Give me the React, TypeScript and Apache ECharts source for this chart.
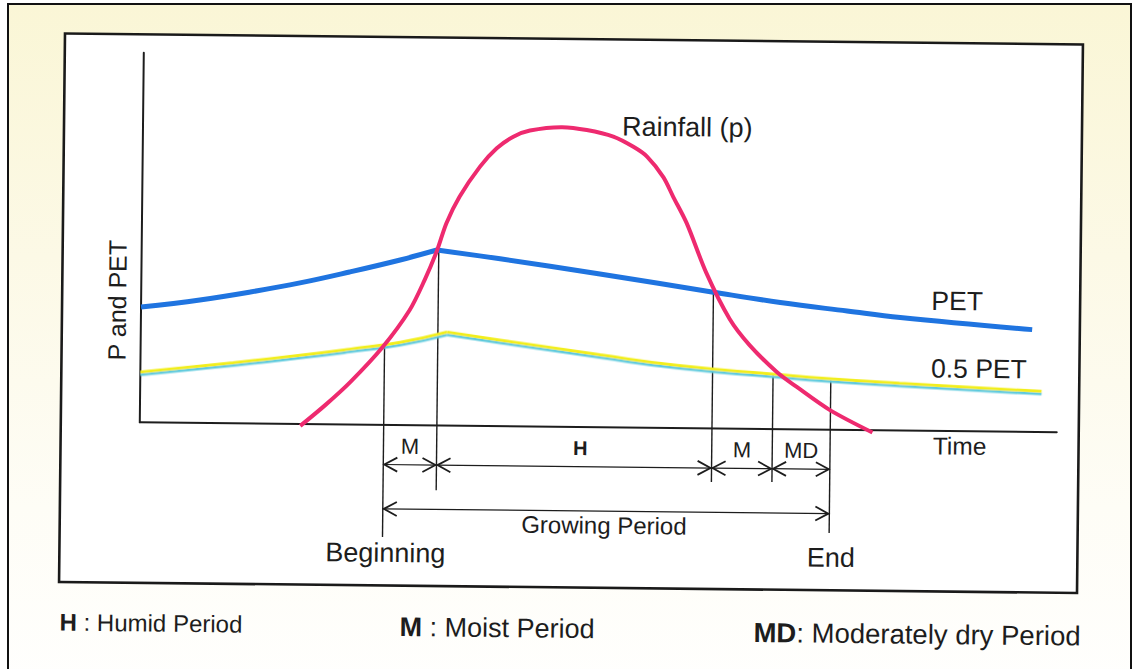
import React, { useEffect, useRef } from "react";
import * as echarts from "echarts";

const FONT = "'Liberation Sans', Arial, Helvetica, sans-serif";
const INK = "#1d1d1d";

// Axis ranges (arbitrary units: Time 0-100, P and PET 0-100)
const timeMin = 0;
const timeMax = 100;
const valueMin = 0;
const valueMax = 100;

// Rainfall (p)
const rainfallTime = [17.5, 20.2, 22.9, 26.4, 29.3, 30.9, 32.2, 33.2, 34.6, 36.8, 38.6, 40.4, 42.2, 45.7, 48.4, 51.3, 53.5, 55.0, 56.8, 57.9, 59.4, 61.6, 64.2, 66.4, 69.4, 71.6, 75.2, 79.9];
const rainfallValue = [-0.5, 5.2, 11.5, 21.1, 31.2, 39.4, 47.3, 54.8, 62.0, 70.2, 75.2, 78.4, 80.1, 81.1, 80.4, 78.7, 76.0, 73.4, 67.9, 62.6, 55.5, 42.1, 29.7, 22.7, 15.5, 11.5, 5.4, -0.6];

// PET
const petTime = [0, 6.4, 11.9, 17.3, 22.7, 28.2, 32.2, 39.1, 50.0, 62.4, 69.7, 77.0, 82.8, 97.2];
const petValue = [31.2, 33.3, 35.6, 38.2, 41.3, 44.7, 47.5, 45.3, 41.5, 36.9, 34.3, 32.2, 30.6, 27.7];

// 0.5 PET
const halfPetTime = [0, 10.1, 17.4, 22.8, 28.3, 33.4, 39.2, 50.1, 58.8, 69.0, 75.2, 82.8, 98.3];
const halfPetValue = [13.6, 16.4, 18.6, 20.4, 22.4, 25.3, 23.3, 19.6, 16.9, 14.9, 13.8, 12.8, 11.0];

// Period annotations
const periodStart = [26.6, 32.4, 62.4, 69.0];
const periodEnd = [32.4, 62.4, 69.0, 75.3];
const periodLabel = ["M", "H", "M", "MD"];
const periodRow = -10.7;

const growingStart = [26.6];
const growingEnd = [75.3];
const growingLabel = ["Growing Period"];
const growingRow = -22.7;
const growingEnds = ["Beginning", "End"];

const boundaryTime = [26.6, 32.4, 62.4, 69.0, 75.3];
const boundaryTop = [21.3, 47.5, 37.5, 14.9, 13.4];
const boundaryBottom = [-30.3, -17.5, -14.5, -14.3, -27.9];

const zip = (a: number[], b: number[]) => a.map((v, i) => [v, b[i]]);

function peakIndex(vals: number[]) {
  let k = 0;
  vals.forEach((v, i) => {
    if (v > vals[k]) k = i;
  });
  return k;
}

function chevron(x: number, y: number, dir: number) {
  return {
    type: "polyline",
    shape: { points: [[x - dir * 13, y - 7], [x, y], [x - dir * 13, y + 7]] },
    style: { stroke: INK, lineWidth: 1.8, fill: null },
  };
}

function txt(text: string, x: number, y: number, size: number, extra: any = {}) {
  return {
    type: "text",
    x,
    y,
    z: 100,
    silent: true,
    ...extra,
    style: {
      text,
      fill: INK,
      fontFamily: FONT,
      fontSize: size,
      align: "center",
      verticalAlign: "middle",
      ...(extra.style || {}),
    },
  };
}

function legendText(text: string, x: number, y: number, size: number) {
  return {
    type: "text",
    x,
    y,
    z: 100,
    silent: true,
    style: {
      text,
      fill: INK,
      fontFamily: FONT,
      fontSize: size,
      align: "left",
      verticalAlign: "middle",
      rich: { b: { fontWeight: "bold", fontSize: size, fontFamily: FONT, fill: INK } },
    },
  };
}

export default function App() {
  const ref = useRef<HTMLDivElement>(null);

  useEffect(() => {
    if (!ref.current) return;
    const chart = echarts.init(ref.current, null, { renderer: "svg" });

    const petPeak = peakIndex(petValue);
    const halfPeak = peakIndex(halfPetValue);
    const petPts = zip(petTime, petValue);
    const halfPts = zip(halfPetTime, halfPetValue);

    const axisCommon = {
      type: "value",
      axisLine: { show: true, onZero: false, lineStyle: { color: INK, width: 2 } },
      axisTick: { show: false },
      axisLabel: { show: false },
      splitLine: { show: false },
    };

    const halfStyle = {
      color: "#f2ee1a",
      width: 3,
      shadowColor: "#5cc9dd",
      shadowOffsetY: 2.5,
      shadowBlur: 0,
    };

    const option: any = {
      animation: false,
      grid: { left: 141, top: 57.5, width: 917, height: 369.5 },
      xAxis: { ...axisCommon, min: timeMin, max: timeMax },
      yAxis: { ...axisCommon, min: valueMin, max: valueMax },
      graphic: [
        {
          type: "rect",
          z: -10,
          silent: true,
          shape: { x: 62, y: 39, width: 1018, height: 548.5 },
          style: { fill: "#ffffff", stroke: "#1a1a1a", lineWidth: 2.6 },
        },
        txt("Rainfall (p)", 620, 126, 27, { style: { align: "left" } }),
        txt("PET", 957, 297, 26.5),
        txt("0.5 PET", 979.5, 364.5, 26.5),
        txt("Time", 961, 442, 24.5),
        txt("P and PET", 117, 305, 25, { rotation: Math.PI / 2 }),
        legendText("{b|H} : Humid Period", 63, 627.6, 24),
        legendText("{b|M} : Moist Period", 403, 628.8, 27),
        legendText("{b|MD}: Moderately dry Period", 757, 630.5, 27.5),
      ],
      series: [
        {
          type: "custom",
          name: "boundaries",
          clip: false,
          z: 2,
          data: boundaryTime.map((t, i) => [t, boundaryTop[i], boundaryBottom[i]]),
          renderItem: (params: any, api: any) => {
            const a = api.coord([api.value(0), api.value(1)]);
            const b = api.coord([api.value(0), api.value(2)]);
            return {
              type: "line",
              shape: { x1: a[0], y1: a[1], x2: b[0], y2: b[1] },
              style: { stroke: INK, lineWidth: 1.4 },
            };
          },
        },
        {
          type: "custom",
          name: "periods",
          clip: false,
          z: 2,
          data: periodStart.map((s, i) => [s, periodEnd[i]]),
          renderItem: (params: any, api: any) => {
            const s = api.coord([api.value(0), periodRow]);
            const e = api.coord([api.value(1), periodRow]);
            const y = s[1];
            const label = periodLabel[params.dataIndex];
            const bold = label === "H";
            return {
              type: "group",
              children: [
                { type: "line", shape: { x1: s[0], y1: y, x2: e[0], y2: y }, style: { stroke: INK, lineWidth: 1.2 } },
                chevron(s[0] + 1, y, -1),
                chevron(e[0] - 1, y, 1),
                {
                  type: "text",
                  x: (s[0] + e[0]) / 2 + (bold ? 6 : 0),
                  y: y - 18.5,
                  style: {
                    text: label,
                    fill: INK,
                    fontFamily: FONT,
                    fontSize: bold ? 20 : 22,
                    fontWeight: bold ? "bold" : "normal",
                    align: "center",
                    verticalAlign: "middle",
                  },
                },
              ],
            };
          },
        },
        {
          type: "custom",
          name: "growing",
          clip: false,
          z: 2,
          data: growingStart.map((s, i) => [s, growingEnd[i]]),
          renderItem: (params: any, api: any) => {
            const s = api.coord([api.value(0), growingRow]);
            const e = api.coord([api.value(1), growingRow]);
            const y = s[1];
            return {
              type: "group",
              children: [
                { type: "line", shape: { x1: s[0], y1: y, x2: e[0], y2: y }, style: { stroke: INK, lineWidth: 1.2 } },
                chevron(s[0] + 1, y, -1),
                chevron(e[0] - 1, y, 1),
                {
                  type: "text",
                  x: (s[0] + e[0]) / 2 - 2,
                  y: y + 14,
                  style: { text: growingLabel[params.dataIndex], fill: INK, fontFamily: FONT, fontSize: 24, align: "center", verticalAlign: "middle" },
                },
                {
                  type: "text",
                  x: s[0] + 3,
                  y: y + 44,
                  style: { text: growingEnds[0], fill: INK, fontFamily: FONT, fontSize: 27, align: "center", verticalAlign: "middle" },
                },
                {
                  type: "text",
                  x: e[0] + 2,
                  y: y + 44,
                  style: { text: growingEnds[1], fill: INK, fontFamily: FONT, fontSize: 27, align: "center", verticalAlign: "middle" },
                },
              ],
            };
          },
        },
        {
          type: "line",
          name: "0.5 PET rise",
          data: halfPts.slice(0, halfPeak + 1),
          smooth: 0.5,
          symbol: "none",
          clip: false,
          z: 4,
          lineStyle: halfStyle,
        },
        {
          type: "line",
          name: "0.5 PET fall",
          data: halfPts.slice(halfPeak),
          smooth: 0.5,
          symbol: "none",
          clip: false,
          z: 4,
          lineStyle: halfStyle,
        },
        {
          type: "line",
          name: "PET rise",
          data: petPts.slice(0, petPeak + 1),
          smooth: 0.4,
          symbol: "none",
          clip: false,
          z: 5,
          lineStyle: { color: "#1f74e0", width: 5 },
        },
        {
          type: "line",
          name: "PET fall",
          data: petPts.slice(petPeak),
          smooth: 0.4,
          symbol: "none",
          clip: false,
          z: 5,
          lineStyle: { color: "#1f74e0", width: 5 },
        },
        {
          type: "line",
          name: "Rainfall (p)",
          data: zip(rainfallTime, rainfallValue),
          smooth: 0.3,
          symbol: "none",
          clip: false,
          z: 6,
          lineStyle: { color: "#ee2a6f", width: 4 },
        },
      ],
    };

    chart.setOption(option);
    return () => chart.dispose();
  }, []);

  return (
    <div style={{ position: "fixed", left: 0, top: 0, width: 1135, height: 669, background: "#ffffff", overflow: "hidden" }}>
      <div
        style={{
          position: "absolute",
          left: 7,
          top: 3,
          width: 1125,
          height: 720,
          boxSizing: "border-box",
          borderLeft: "2px solid #111",
          borderTop: "2px solid #111",
          borderRight: "2px solid #111",
          background: "linear-gradient(180deg, #faf6d6 0%, #fcf9e6 35%, #fefdf6 70%, #ffffff 100%)",
        }}
      />
      <div
        ref={ref}
        style={{
          position: "absolute",
          left: 0,
          top: 0,
          width: 1135,
          height: 669,
          transform: "rotate(0.62deg)",
          transformOrigin: "572px 313px",
        }}
      />
    </div>
  );
}
